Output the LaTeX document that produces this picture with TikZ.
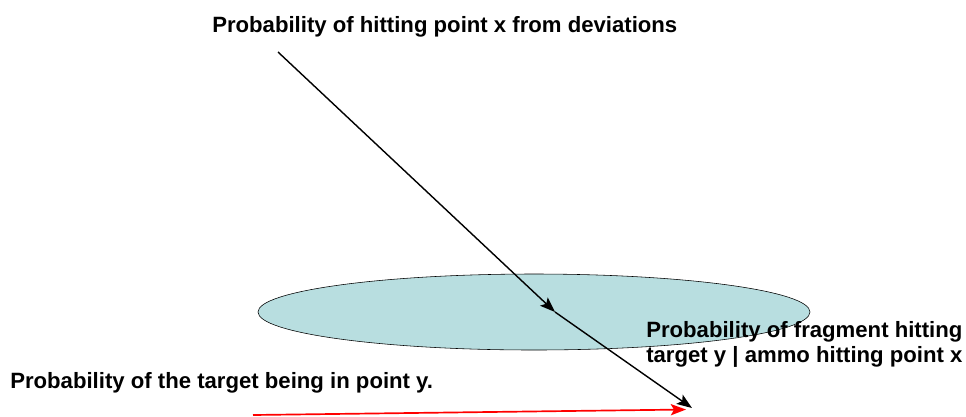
\documentclass[tikz,border=0pt]{standalone}
\usepackage{fontspec}
\setmainfont{Liberation Sans}
\usepackage{xcolor}
\definecolor{zonecyan}{HTML}{B8DEE0}
\usetikzlibrary{arrows.meta,positioning,shapes.geometric}

\tikzset{
  problabel/.style={font=\fontsize{15.75}{17.8}\selectfont\bfseries, inner sep=0pt},
  hitray/.style={-{Stealth[length=3.8mm,width=2.8mm,inset=0.8mm]}, line width=1pt, black},
  targetray/.style={-{Stealth[length=3.8mm,width=2.8mm,inset=0.8mm]}, line width=1.2pt, red}
}

\begin{document}
\begin{tikzpicture}[x=0.25mm, y=-0.25mm]
    		\useasboundingbox (0,0) rectangle (966,416);

    		% Impact zone
    		\node[ellipse, draw, thin, fill=zonecyan, minimum width=138mm, minimum height=19mm, inner sep=0pt] (zone) at (534,312) {};

    		% Points of the rays
    		\coordinate (launch) at (278,52);
    		\coordinate (hitx) at (555,312);
    		\coordinate (targety) at (692,408);
    		\coordinate (redstart) at (253,415);
    		\coordinate (redend) at (686,409.5);

    		% Ray to point x
    		\draw[hitray] (launch) -- (hitx);

    		% Fragment ray from x to y
    		\draw[hitray] (hitx) -- (targety);

    		% Target ray
    		\draw[targetray] (redstart) -- (redend);

    		% Labels
    		\node[problabel, anchor=base west] (probdev) at (212,32) {Probability of hitting point x from deviations};
    		\node[problabel, anchor=base west] (probtarget) at (10,388) {Probability of the target being in point y.};
    		\node[problabel, anchor=west, align=left] (probfrag) at (646,344) {Probability of fragment hitting\\target y | ammo hitting point x};
    	\end{tikzpicture}
\end{document}
